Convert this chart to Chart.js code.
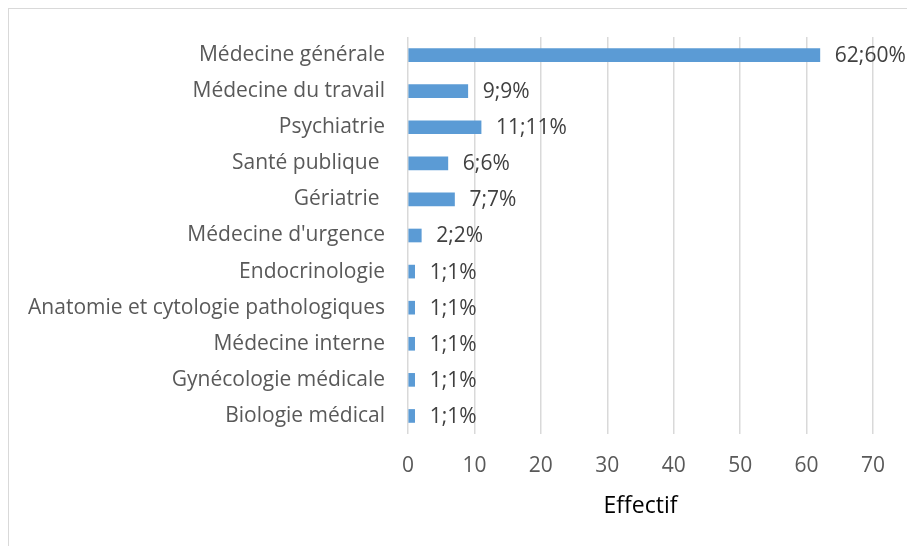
<!DOCTYPE html>
<html>
<head>
<meta charset="utf-8">
<script src="https://cdn.jsdelivr.net/npm/chart.js@4"></script>
<style>
  html, body { margin: 0; padding: 0; background: #fff; overflow: hidden; }
  #wrap { position: relative; width: 907px; height: 546px; }
  #frame { position: absolute; left: 8px; top: 8px; width: 1000px; height: 1000px;
           border-top: 1px solid #d9d9d9; border-left: 1px solid #d9d9d9; }
  canvas { position: absolute; left: 0; top: 0; }
</style>
</head>
<body>
<div id="wrap">
  <div id="frame"></div>
  <canvas id="c" width="907" height="546"></canvas>
</div>
<script>
// categories, top to bottom
const specialites = [
    'Médecine générale', 'Médecine du travail', 'Psychiatrie', 'Santé publique ',
    'Gériatrie ', "Médecine d'urgence", 'Endocrinologie',
    'Anatomie et cytologie pathologiques', 'Médecine interne',
    'Gynécologie médicale', 'Biologie médical'
];
const effectifs = [62, 9, 11, 6, 7, 2, 1, 1, 1, 1, 1];
const pourcentages = [60, 9, 11, 6, 7, 2, 1, 1, 1, 1, 1];
const xTicks = [0, 10, 20, 30, 40, 50, 60, 70];

const FONT = "'Open Sans', 'Liberation Sans', sans-serif";

// étiquettes "n;p%" au bout des barres
const barLabels = {
    id: 'barLabels',
    afterDatasetsDraw(chart) {
        const ctx = chart.ctx;
        const meta = chart.getDatasetMeta(0);
        ctx.save();
        ctx.font = '21px ' + FONT;
        ctx.fillStyle = '#404040';
        ctx.textAlign = 'left';
        ctx.textBaseline = 'middle';
        meta.data.forEach((bar, i) => {
            ctx.fillText(effectifs[i] + ';' + pourcentages[i] + '%', bar.x + 15, bar.y + 1);
        });
        ctx.restore();
    }
};

new Chart(document.getElementById('c').getContext('2d'), {
    type: 'bar',
    data: {
        labels: specialites,
        datasets: [{ data: effectifs, backgroundColor: '#5b9bd5', barThickness: 13 }]
    },
    options: {
        indexAxis: 'y',
        responsive: false,
        animation: false,
        layout: { padding: { top: 37, right: 34, left: 0, bottom: 0 } },
        plugins: { legend: { display: false }, tooltip: { enabled: false } },
        scales: {
            x: {
                min: 0, max: 70,
                afterBuildTicks: (s) => { s.ticks = xTicks.map(v => ({ value: v })); },
                afterFit: (s) => { s.height = 112; },
                grid: { color: '#d9d9d9', lineWidth: 1.5, drawTicks: false },
                border: { display: false },
                ticks: { color: '#595959', font: { family: FONT, size: 21 }, padding: 19 },
                title: { display: true, text: 'Effectif', color: '#000',
                         font: { family: FONT, size: 23 }, padding: { top: 0, bottom: 26 } }
            },
            y: {
                afterFit: (s) => { s.width = 408; },
                grid: { display: false, drawTicks: false },
                border: { display: false },
                ticks: { color: '#595959', font: { family: FONT, size: 21 }, padding: 23 }
            }
        }
    },
    plugins: [barLabels]
});
</script>
</body>
</html>
